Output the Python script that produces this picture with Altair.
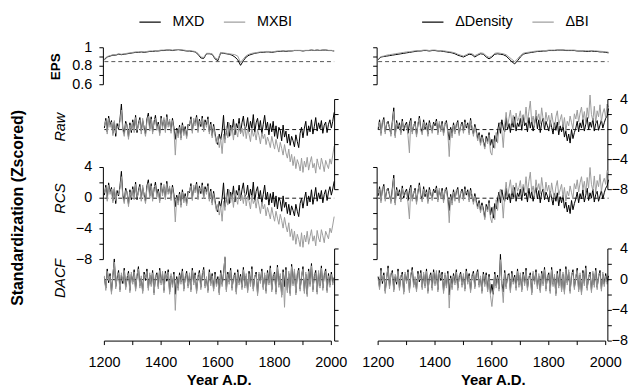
import altair as alt
import pandas as pd

years10 = list(range(1200, 2011, 10))
years5 = list(range(1200, 2011, 5))

# ---------------- EPS (10-year steps) ----------------
eps_mxd = [0.87, 0.90, 0.91, 0.92, 0.92, 0.93, 0.925, 0.93, 0.935, 0.94,
           0.945, 0.95, 0.95, 0.955, 0.95, 0.955, 0.96, 0.96, 0.965, 0.965,
           0.97, 0.97, 0.975, 0.975, 0.97, 0.975, 0.98, 0.975, 0.97, 0.965,
           0.965, 0.96, 0.955, 0.93, 0.89, 0.885, 0.935, 0.935, 0.93, 0.88,
           0.86, 0.945, 0.94, 0.935, 0.93, 0.92, 0.90, 0.87, 0.81, 0.86,
           0.90, 0.92, 0.93, 0.94, 0.945, 0.95, 0.95, 0.955, 0.955, 0.95,
           0.955, 0.96, 0.96, 0.965, 0.96, 0.965, 0.965, 0.97, 0.97, 0.97,
           0.965, 0.97, 0.97, 0.975, 0.97, 0.975, 0.97, 0.975, 0.975, 0.97,
           0.97, 0.965]
eps_mxbi = [0.88, 0.905, 0.915, 0.925, 0.925, 0.935, 0.93, 0.935, 0.94, 0.945,
            0.95, 0.955, 0.955, 0.96, 0.955, 0.96, 0.965, 0.965, 0.97, 0.97,
            0.975, 0.975, 0.978, 0.978, 0.975, 0.978, 0.98, 0.978, 0.975, 0.97,
            0.97, 0.965, 0.96, 0.94, 0.90, 0.895, 0.94, 0.94, 0.935, 0.89,
            0.875, 0.95, 0.945, 0.94, 0.935, 0.93, 0.925, 0.91, 0.84, 0.88,
            0.915, 0.93, 0.94, 0.945, 0.95, 0.955, 0.955, 0.96, 0.96, 0.955,
            0.96, 0.965, 0.965, 0.968, 0.965, 0.968, 0.968, 0.972, 0.972, 0.972,
            0.97, 0.972, 0.972, 0.977, 0.972, 0.977, 0.972, 0.977, 0.977, 0.972,
            0.972, 0.968]
eps_dd = [0.87, 0.90, 0.905, 0.91, 0.915, 0.92, 0.925, 0.93, 0.935, 0.94,
          0.945, 0.95, 0.955, 0.96, 0.965, 0.965, 0.97, 0.97, 0.965, 0.97,
          0.97, 0.965, 0.965, 0.96, 0.955, 0.95, 0.945, 0.935, 0.92, 0.91,
          0.90, 0.915, 0.93, 0.925, 0.90, 0.92, 0.935, 0.93, 0.90, 0.88,
          0.90, 0.93, 0.935, 0.93, 0.925, 0.91, 0.88, 0.85, 0.825, 0.86,
          0.90, 0.93, 0.94, 0.945, 0.95, 0.955, 0.96, 0.96, 0.965, 0.965,
          0.97, 0.97, 0.97, 0.975, 0.975, 0.975, 0.97, 0.97, 0.97, 0.97,
          0.965, 0.965, 0.965, 0.96, 0.96, 0.965, 0.96, 0.96, 0.955, 0.955,
          0.95, 0.945]
eps_dbi = [0.875, 0.905, 0.91, 0.92, 0.925, 0.93, 0.935, 0.94, 0.945, 0.95,
           0.955, 0.958, 0.962, 0.967, 0.97, 0.97, 0.975, 0.975, 0.97, 0.975,
           0.975, 0.97, 0.97, 0.967, 0.962, 0.958, 0.952, 0.945, 0.93, 0.92,
           0.91, 0.925, 0.94, 0.935, 0.915, 0.93, 0.945, 0.94, 0.915, 0.895,
           0.91, 0.94, 0.945, 0.94, 0.935, 0.925, 0.90, 0.875, 0.85, 0.88,
           0.915, 0.94, 0.948, 0.952, 0.957, 0.962, 0.965, 0.967, 0.97, 0.97,
           0.975, 0.975, 0.975, 0.978, 0.978, 0.978, 0.975, 0.975, 0.975, 0.975,
           0.97, 0.97, 0.97, 0.967, 0.967, 0.97, 0.967, 0.965, 0.962, 0.96,
           0.957, 0.952]

# ---------------- z-scored chronologies (5-year steps) ----------------
raw_mxd = [0.2, 1.5, -0.3, 1.8, 0.6, 1.2, -0.5, 1.0, -0.9, 0.8, 0.1, 1.4, 3.4, 0.2, -0.6, 1.1, 0.5, -1.0, 0.9, -0.4,
           1.3, 0.0, 1.9, -0.4, 0.8, 1.6, -0.2, 1.2, 0.3, -0.6, 1.4, 2.2, 0.1, 1.7, -0.3, 0.9, 1.9, 0.2, 1.0, -0.5,
           1.8, 0.4, 1.3, -0.1, 2.0, 0.6, 1.1, -0.2, 1.5, 0.3, -1.3, 0.2, -0.8, 0.6, -1.1, 0.9, -0.5, 0.4, -0.9, 0.7,
           0.5, 1.7, -0.2, 1.2, 0.8, 1.9, -0.1, 1.4, 0.4, 1.8, 0.0, 1.3, 0.6, 1.7, -0.3, 1.0, -0.8, 0.7, -0.5, -1.6,
           -2.0, -0.6, -1.4, -0.2, 1.9, -1.3, -0.4, 1.0, -0.9, 0.6, -0.2, 1.4, -0.7, 0.8, 0.2, 1.5, -0.5, 0.9, 1.8, 0.0,
           0.4, 1.6, -0.3, 1.1, 0.2, 2.0, -0.4, 0.9, 1.5, 0.0, 1.2, -0.6, 0.7, 1.9, 0.1, 1.0, -0.7, 0.8, -0.3, 1.1,
           -0.9, 0.5, -1.2, 0.3, -0.1, -1.5, 0.6, -1.0, -0.2, -1.8, -0.6, -2.1, -0.9, -1.5, -2.3, -0.7, -1.6, -2.4, -0.5, 0.3,
           -1.1, 0.2, 1.1, -0.8, 0.5, -0.3, 1.3, -0.6, 0.4, 1.6, -0.2, 0.9, 0.1, 1.2, -0.5, 0.6, 1.0, -0.4, 0.7, 1.3,
           0.2, 1.1, 2.3]
raw_mxbi = [0.5, 1.2, -0.6, 1.5, 0.3, 1.0, -0.8, 1.2, -0.5, 0.4, 0.3, 1.1, 2.6, -0.1, -0.9, 0.8, 0.7, -1.3, 0.6, -0.1,
            1.0, -0.4, 1.6, -0.1, 0.5, 1.3, -0.6, 1.5, 0.0, -0.9, 1.1, 1.8, -0.2, 1.4, -0.6, 1.2, 1.5, -0.1, 0.7, -0.8,
            1.5, 0.1, 1.6, -0.4, 1.7, 0.3, 1.4, -0.5, 1.2, 0.0, -3.4, -0.1, -1.1, 0.3, -1.4, 0.6, -0.8, 0.1, -1.2, 0.4,
            0.8, 1.4, -0.5, 1.5, 0.5, 1.6, -0.4, 1.1, 0.7, 1.5, -0.3, 1.0, 0.3, 1.4, -0.6, 0.7, -1.1, 0.4, -0.8, -1.9,
            -0.9, -2.4, -1.2, -3.2, -0.6, -1.8, 0.4, -1.1, 0.9, -0.8, 0.3, -1.4, 0.6, -0.2, -1.0, 0.8, -0.5, 0.2, -0.9, 0.5,
            -1.2, 0.1, -0.6, -1.6, 0.2, -0.9, -0.3, -1.4, 0.0, -0.8, -1.9, -0.4, -1.2, -0.6, -2.0, -1.0, -1.6, -2.4, -0.9, -1.8,
            -2.6, -1.3, -2.2, -3.0, -1.7, -2.5, -3.4, -2.0, -3.1, -3.8, -2.6, -4.3, -3.3, -4.8, -3.6, -5.2, -4.0, -4.6, -5.5, -3.8,
            -5.7, -4.2, -5.0, -3.7, -5.4, -4.4, -3.6, -5.1, -4.5, -5.8, -3.9, -4.8, -5.3, -3.8, -4.6, -5.6, -4.1, -4.7, -5.2, -3.9,
            -4.6, -3.4, -2.2]
rcs_mxd = [0.4, 1.7, -0.1, 2.0, 0.8, 1.4, -0.3, 1.2, -0.7, 1.0, 0.3, 1.6, 3.5, 0.4, -0.4, 1.3, 0.7, -0.8, 1.1, -0.2,
           1.5, 0.2, 2.1, -0.2, 1.0, 1.8, 0.0, 1.4, 0.5, -0.4, 1.6, 2.4, 0.3, 1.9, -0.1, 1.1, 2.1, 0.4, 1.2, -0.3,
           2.0, 0.6, 1.5, 0.1, 2.2, 0.8, 1.3, 0.0, 1.7, 0.5, -1.1, 0.4, -0.6, 0.8, -0.9, 1.1, -0.3, 0.6, -0.7, 0.9,
           0.7, 1.9, 0.0, 1.4, 1.0, 2.1, 0.1, 1.6, 0.6, 2.0, 0.2, 1.5, 0.8, 1.9, -0.1, 1.2, -0.6, 0.9, -0.3, -1.4,
           -1.8, -0.4, -1.2, 0.0, 2.0, -1.1, -0.2, 1.2, -0.7, 0.8, 0.0, 1.6, -0.5, 1.0, 0.4, 1.7, -0.3, 1.1, 2.0, 0.2,
           0.5, 1.7, -0.2, 1.2, 0.2, 2.1, -0.4, 0.9, 1.5, -0.1, 1.0, -0.7, 0.5, 1.7, -0.2, 0.8, -0.9, 0.6, -0.6, 0.8,
           -1.1, 0.3, -1.4, 0.1, -0.4, -1.7, 0.3, -1.2, -0.5, -2.0, -0.8, -2.2, -1.0, -1.6, -2.3, -0.8, -1.7, -2.4, -0.7, 0.0,
           -1.3, -0.1, 0.8, -1.0, 0.3, -0.5, 1.1, -0.8, 0.2, 1.4, -0.4, 0.7, -0.1, 1.0, -0.6, 0.5, 1.1, -0.3, 0.8, 1.5,
           0.4, 1.2, 2.2]
rcs_mxbi = [0.7, 1.4, -0.4, 1.7, 0.5, 1.2, -0.6, 1.4, -0.3, 0.6, 0.5, 1.3, 2.8, 0.1, -0.7, 1.0, 0.9, -1.1, 0.8, 0.1,
            1.2, -0.2, 1.8, 0.1, 0.7, 1.5, -0.4, 1.7, 0.2, -0.7, 1.3, 2.0, 0.0, 1.6, -0.4, 1.4, 1.7, 0.1, 0.9, -0.6,
            1.7, 0.3, 1.8, -0.2, 1.9, 0.5, 1.6, -0.3, 1.4, 0.2, -3.1, 0.1, -0.9, 0.5, -1.2, 0.8, -0.6, 0.3, -1.0, 0.6,
            1.0, 1.6, -0.3, 1.7, 0.7, 1.8, -0.2, 1.3, 0.9, 1.7, -0.1, 1.2, 0.5, 1.6, -0.4, 0.9, -0.9, 0.6, -0.6, -1.7,
            -0.8, -2.2, -1.0, -3.0, -0.4, -1.6, 0.6, -0.9, 1.1, -0.6, 0.5, -1.2, 0.8, 0.0, -0.8, 1.0, -0.3, 0.4, -0.7, 0.7,
            -1.0, 0.3, -0.4, -1.4, 0.4, -0.7, -0.2, -1.3, 0.1, -0.9, -2.0, -0.5, -1.4, -0.8, -2.3, -1.2, -1.9, -2.7, -1.2, -2.2,
            -3.0, -1.7, -2.6, -3.4, -2.1, -2.9, -3.9, -2.5, -3.6, -4.4, -3.2, -5.0, -4.0, -5.5, -4.3, -6.0, -4.7, -5.4, -6.3, -4.5,
            -6.4, -4.8, -5.7, -4.3, -6.0, -5.0, -4.1, -5.6, -4.9, -6.2, -4.2, -5.2, -5.7, -4.1, -4.9, -5.8, -4.3, -4.8, -5.3, -3.9,
            -4.5, -3.5, -2.4]
dacf_mxd = [0.3, -1.1, 1.4, -0.4, 0.8, -1.6, 0.5, 2.7, -0.9, 0.2, 1.2, -1.3, 0.6, -0.5, 1.5, -1.0, 0.1, 1.1, -1.4, 0.7,
            -0.3, 1.3, -1.2, 0.4, 1.7, -0.8, 0.2, -1.5, 1.0, -0.1, 1.4, -1.1, 0.6, -0.6, 1.2, -1.7, 0.3, 0.9, -0.9, 1.5,
            -0.4, 0.8, -1.4, 1.1, -0.2, 1.3, -1.6, 0.5, -0.7, 1.0, -1.9, 0.4, -1.1, 0.9, -0.3, 1.4, -1.2, 0.2, 1.1, -0.8,
            0.6, -1.3, 1.5, -0.4, 0.9, -1.5, 0.3, 1.2, -1.0, 0.5, 1.6, -0.8, 0.1, -1.4, 1.3, -0.5, 0.8, -1.2, 1.0, -0.6,
            0.4, -1.7, 1.2, -0.6, 0.8, 2.9, -1.3, 1.0, -0.3, 1.5, -1.1, 0.2, 0.9, -1.6, 1.3, -0.4, 0.7, -1.0, 1.6, -0.8,
            0.5, -1.4, 1.1, -0.6, 1.7, -1.2, 0.3, 1.0, -1.8, 0.7, -0.2, 1.4, -1.0, 0.6, -1.5, 1.2, -0.4, 1.8, -1.3, 0.4,
            1.0, -1.6, 1.9, -0.7, 0.5, -2.0, 1.3, -0.9, 1.6, -1.4, 0.8, -1.8, 2.0, -0.5, 1.1, -1.7, 0.6, 1.5, -1.2, 0.3,
            1.7, -1.5, 0.7, -1.9, 1.4, -0.6, 2.1, -1.3, 0.4, 1.2, -1.6, 0.9, -0.8, 1.8, -1.1, 0.5, 1.4, -1.4, 0.8, -0.7,
            1.0, -0.4, 0.3]
dacf_mxbi = [0.5, -1.4, 1.1, -0.1, 0.5, -1.9, 0.8, 2.3, -1.2, 0.5, 0.9, -1.6, 0.9, -0.2, 1.2, -1.3, 0.4, 0.8, -1.7, 1.0,
             -0.6, 1.0, -1.5, 0.7, 1.4, -1.1, 0.5, -1.8, 0.7, 0.2, 1.1, -1.4, 0.9, -0.9, 0.9, -2.0, 0.6, 0.6, -1.2, 1.2,
             -0.7, 1.1, -1.7, 0.8, 0.1, 1.0, -1.9, 0.8, -1.0, 0.7, -4.0, 0.1, -1.4, 0.6, -0.6, 1.1, -1.5, 0.5, 0.8, -1.1,
             0.9, -1.6, 1.2, -0.7, 0.6, -1.8, 0.6, 0.9, -1.3, 0.8, 1.3, -1.1, 0.4, -1.7, 1.0, -0.8, 0.5, -1.5, 0.7, -0.9,
             0.1, -2.0, 0.9, -0.9, 0.5, 3.0, -1.6, 0.7, -0.6, 1.2, -1.4, 0.5, 0.6, -1.9, 1.0, -0.7, 0.4, -1.3, 1.3, -1.1,
             0.8, -1.7, 0.8, -0.9, 1.4, -1.5, 0.6, 0.7, -2.1, 1.0, -0.5, 1.1, -1.3, 0.9, -1.8, 0.9, -0.7, 1.5, -1.6, 0.7,
             0.7, -1.9, 1.6, -1.0, 0.8, -2.3, 1.0, -3.6, 1.3, -1.7, 1.1, -2.1, 1.7, -0.8, 1.4, -2.0, 0.9, 1.2, -1.5, 0.6,
             1.4, -1.8, 1.0, -2.2, 1.1, -0.9, 1.8, -1.6, 0.7, 0.9, -1.9, 1.2, -1.1, 1.5, -1.4, 0.8, 1.1, -1.7, 0.5, -1.0,
             0.7, -0.7, 0.2]

raw_dd = [0.0, 1.3, -0.5, 0.9, 1.6, -0.3, 0.7, 1.1, 0.2, -0.6, 1.1, 2.9, -0.8, 1.2, 0.1, 0.9, -0.4, 1.4, -0.2, 0.6,
          1.0, -0.5, 0.8, 1.5, -0.3, 0.4, 1.1, -0.7, 0.6, 1.8, 0.2, -0.4, 1.3, 0.0, 0.9, -0.6, 1.2, 0.3, -0.2, 1.0,
          0.5, 1.4, -0.4, 0.8, 0.0, 1.1, -0.5, 0.7, 1.2, -0.2, -1.4, 0.3, -0.8, 0.9, -0.3, 0.6, 1.2, -0.5, 0.4, 1.0,
          -0.2, 1.3, 0.2, 0.9, -0.4, 1.5, 0.1, -0.6, 0.7, -0.1, -1.2, -0.4, -1.8, -0.7, -1.5, -2.3, -0.9, -1.6, -0.4, -2.1,
          -1.3, -2.4, -0.8, -1.6, -0.2, 0.9, -0.5, 1.3, 0.2, -0.3, 1.6, 0.0, 0.8, -0.4, 1.2, 0.3, 1.7, -0.2, 0.9, 0.4,
          1.5, -0.1, 1.9, 0.5, 0.9, -0.3, 1.6, 0.2, 1.2, -0.2, 0.8, 1.8, 0.1, 1.3, -0.4, 0.9, 1.5, 0.0, 1.1, 0.5,
          -0.2, 1.2, 0.3, -0.6, 0.9, -0.1, 1.0, -0.7, 0.5, -0.3, 0.7, -1.0, -0.2, -1.5, -0.6, -1.8, 0.0, -1.2, -0.4, 0.2,
          1.1, -0.3, 0.9, 0.2, 1.4, -0.2, 0.7, 1.6, 0.0, 1.0, 0.3, 1.5, -0.2, 0.8, 1.2, -0.1, 0.6, 1.3, 0.2, 0.9,
          1.5, 1.8, 2.8]
raw_dbi = [0.3, 1.0, -0.8, 1.2, 1.3, -0.6, 1.0, 0.8, 0.5, -0.9, 0.8, 2.4, -1.1, 0.9, 0.4, 0.6, -0.7, 1.1, 0.1, 0.3,
           0.7, -0.8, -3.1, 1.2, -0.6, 0.7, 0.8, -1.0, 0.9, 1.5, -0.1, -0.7, 1.0, 0.3, 0.6, -0.9, 0.9, 0.6, -0.5, 0.7,
           0.8, 1.1, -0.7, 1.1, -0.3, 0.8, -0.8, 1.0, 0.9, -0.5, -3.6, 0.0, -1.1, 0.6, -0.6, 0.9, 0.9, -0.8, 0.7, 0.7,
           -0.5, 1.0, 0.5, 0.6, -0.7, 1.2, 0.4, -0.9, 0.4, -0.4, -1.5, -0.7, -2.1, -1.0, -1.8, -2.6, -1.2, -1.9, -0.7, -3.0,
           -3.4, -1.3, -2.5, -0.4, -1.8, 0.2, 1.0, -0.2, -2.4, 0.6, 2.3, 0.4, 1.5, 2.6, 0.8, 1.9, 0.3, 2.2, 1.1, 1.6,
           2.5, 0.7, 2.0, 1.2, 3.0, 0.9, 2.4, 3.8, 1.0, 1.8, 0.5, 2.6, 1.3, 2.1, 0.8, 2.9, 1.4, 0.6, 2.3, 1.1,
           1.9, 0.4, 2.2, 1.0, 0.2, 1.7, 2.5, 0.6, 1.3, 2.0, 0.3, 1.6, -0.2, 1.1, 0.5, 1.8, 0.9, 0.1, 2.1, 1.4,
           2.6, 1.0, 2.2, 3.0, 1.3, 2.4, 0.8, 2.9, 1.5, 4.6, 2.0, 1.2, 3.1, 0.9, 2.5, 1.7, 3.3, 1.1, 2.2, 2.8,
           1.6, 3.4, 3.0]
rcs_dd = [0.3, 1.5, -0.3, 1.1, 1.8, -0.1, 0.9, 1.3, 0.4, -0.4, 1.3, 3.0, -0.6, 1.4, 0.3, 1.1, -0.2, 1.6, 0.0, 0.8,
          1.2, -0.3, 1.0, 1.7, -0.1, 0.6, 1.3, -0.5, 0.8, 2.0, 0.4, -0.2, 1.5, 0.2, 1.1, -0.4, 1.4, 0.5, 0.0, 1.2,
          0.7, 1.6, -0.2, 1.0, 0.2, 1.3, -0.3, 0.9, 1.4, 0.0, -1.6, 0.5, -0.6, 1.1, -0.1, 0.8, 1.4, -0.3, 0.6, 1.2,
          0.0, 1.5, 0.4, 1.1, -0.2, 1.3, 0.2, -0.5, 0.6, -0.3, -1.1, -0.3, -1.6, -0.6, -1.4, -2.5, -0.8, -1.5, -0.3, -2.2,
          -1.2, -2.6, -0.7, -1.4, -0.1, 0.8, -0.6, 1.1, 0.0, -0.4, 1.3, -0.2, 0.6, -0.6, 1.0, 0.1, 1.4, -0.4, 0.7, 0.2,
          1.2, -0.3, 1.5, 0.3, 0.7, -0.5, 1.3, 0.0, 0.9, -0.4, 0.6, 1.4, -0.1, 1.0, -0.6, 0.7, 1.2, -0.2, 0.8, 0.3,
          -0.5, 0.9, 0.0, -0.9, 0.6, -0.4, 0.7, -1.0, 0.2, -0.6, 0.4, -1.3, -0.5, -1.8, -0.9, -2.0, -0.3, -1.5, -0.7, -0.1,
          0.8, -0.6, 0.6, -0.1, 1.1, -0.5, 0.4, 1.3, -0.3, 0.7, 0.0, 1.2, -0.5, 0.5, 0.9, -0.4, 0.3, 1.0, -0.1, 0.7,
          1.3, 1.6, 2.4]
rcs_dbi = [0.6, 1.2, -0.6, 1.4, 1.5, -0.4, 1.2, 1.0, 0.7, -0.7, 1.0, 2.6, -0.9, 1.1, 0.6, 0.8, -0.5, 1.3, 0.3, 0.5,
           0.9, -0.6, -2.7, 1.4, -0.4, 0.9, 1.0, -0.8, 1.1, 1.7, 0.1, -0.5, 1.2, 0.5, 0.8, -0.7, 1.1, 0.8, -0.3, 0.9,
           1.0, 1.3, -0.5, 1.3, -0.1, 1.0, -0.6, 1.2, 1.1, -0.3, -3.2, 0.2, -0.9, 0.8, -0.4, 1.1, 1.1, -0.6, 0.9, 0.9,
           -0.3, 1.2, 0.7, 0.8, -0.5, 1.0, 0.5, -0.8, 0.3, -0.6, -1.4, -0.6, -1.9, -0.9, -1.7, -2.8, -1.1, -1.8, -0.6, -2.6,
           -3.2, -1.1, -2.8, -0.2, -1.6, 0.4, 1.2, 0.0, -2.6, 0.4, 2.1, 0.2, 1.3, 2.4, 0.6, 1.7, 0.1, 2.0, 0.9, 1.4,
           2.3, 0.5, 1.8, 1.0, 2.8, 0.7, 2.2, 3.4, 0.8, 1.6, 0.3, 2.4, 1.1, 1.9, 0.6, 2.7, 1.2, 0.4, 2.1, 0.9,
           1.7, 0.2, 2.0, 0.8, 0.0, 1.5, 2.3, 0.4, 1.1, 1.8, 0.1, 1.4, -0.4, 0.9, 0.3, 1.6, 0.7, -0.1, 1.9, 1.2,
           2.4, 0.8, 2.0, 2.8, 1.1, 2.2, 0.6, 2.7, 1.3, 4.0, 1.8, 1.0, 2.9, 0.7, 2.3, 1.5, 3.1, 0.9, 2.0, 2.6,
           1.8, 3.6, 3.2]
dacf_dd = [0.4, -1.0, 1.5, -0.5, 0.9, -1.5, 0.2, 1.8, -0.9, 0.6, 1.2, -1.3, 0.4, -0.6, 1.4, -1.1, 0.3, 1.0, -1.6, 0.7,
           -0.2, 1.3, -1.4, 0.5, 1.6, -0.7, 0.1, -1.3, 1.1, -0.3, 1.2, -1.0, 0.7, -0.8, 1.4, -1.5, 0.2, 0.9, -1.1, 1.3,
           -0.5, 0.9, -1.3, 1.2, -0.1, 1.0, -1.5, 0.6, -0.8, 1.1, -2.0, 0.5, -1.0, 0.8, -0.4, 1.3, -1.1, 0.3, 1.0, -0.7,
           0.5, -1.2, 1.4, -0.3, 0.8, -1.4, 0.4, 1.1, -0.9, 0.6, 1.3, -0.7, 0.2, -1.5, 1.0, -0.6, 0.9, -1.3, 0.7, -1.8,
           -0.6, -1.9, 1.0, -0.8, 0.6, -1.2, 3.3, -0.5, -1.6, 1.2, -0.9, 0.4, 0.8, -1.4, 1.1, -0.3, 0.6, -1.1, 1.4, -0.7,
           0.6, -1.3, 1.0, -0.5, 1.5, -1.1, 0.2, 0.9, -1.7, 0.8, -0.3, 1.3, -0.9, 0.5, -1.4, 1.1, -0.5, 1.6, -1.2, 0.3,
           0.9, -1.5, 1.6, -0.6, 0.4, -1.8, 1.1, -0.8, 1.4, -1.3, 0.7, -1.6, 1.7, -0.4, 1.0, -1.5, 0.5, 1.3, -1.0, 0.2,
           1.5, -1.3, 0.6, -1.7, 1.2, -0.5, 1.8, -1.1, 0.3, 1.0, -1.4, 0.8, -0.7, 1.5, -1.0, 0.4, 1.2, -1.2, 0.7, -0.6,
           0.8, -0.3, 0.5]
dacf_dbi = [0.1, -1.3, 1.2, -0.2, 0.6, -1.8, 0.5, 1.5, -1.2, 0.9, 0.9, -1.6, 0.7, -0.3, 1.1, -1.4, 0.6, 0.7, -1.9, 1.0,
            -0.5, 1.0, -1.7, 0.8, 1.3, -1.0, 0.4, -1.6, 0.8, 0.0, 0.9, -1.3, 1.0, -1.1, 1.1, -1.8, 0.5, 0.6, -1.4, 1.0,
            -0.8, 1.2, -1.6, 0.9, 0.2, 0.7, -1.8, 0.9, -1.1, 0.8, -3.7, 0.2, -1.3, 0.5, -0.7, 1.0, -1.4, 0.6, 0.7, -1.0,
            0.8, -1.5, 1.1, -0.6, 0.5, -1.7, 0.7, 0.8, -1.2, 0.9, 1.0, -1.0, 0.5, -1.8, 0.7, -0.9, 0.6, -1.6, 0.4, -2.1,
            -3.5, -1.6, 0.7, -1.1, 0.3, -1.5, 2.6, -0.8, -3.0, 0.9, -1.2, 0.7, 0.5, -1.7, 0.8, -0.6, 0.3, -1.4, 1.1, -1.0,
            0.9, -1.6, 0.7, -0.8, 1.2, -1.4, 0.5, 0.6, -2.0, 1.1, -0.6, 1.0, -1.2, 0.8, -1.7, 0.8, -0.8, 1.3, -1.5, 0.6,
            0.6, -1.8, 1.3, -0.9, 0.7, -2.1, 0.8, -1.1, 1.1, -1.6, 1.0, -1.9, 1.4, -0.7, 1.3, -1.8, 0.8, 1.0, -1.3, 0.5,
            1.2, -1.6, 0.9, -2.0, 0.9, -0.8, 1.5, -1.4, 0.6, 0.7, -1.7, 1.1, -1.0, 1.2, -1.3, 0.7, 0.9, -1.5, 1.0, -0.9,
            0.5, -0.6, 0.2]

left_names = ["MXD", "MXBI"]
right_names = ["\u0394Density", "\u0394BI"]
eps_ticks = [0.6, 0.7, 0.8, 0.9, 1.0]
eps_label_vals = [0.6, 0.8, 1.0]
eps_label_txt = ["0.6", "0.8", "1"]
z_ticks = [-8, -6, -4, -2, 0, 2, 4]
z_label_vals = [-8, -4, 0, 4]
z_label_txt = ["\u22128", "\u22124", "0", "4"]
year_ticks = list(range(1200, 2001, 100))
year_label_vals = [1200, 1400, 1600, 1800, 2000]

BLACK = "#000000"
GRAY = "#9c9c9c"
FONT = "Liberation Sans"
W, H = 604, 334
ONE = pd.DataFrame({"k": [0]})


def frame(vals, name, yrs):
    return pd.DataFrame({"year": yrs, "value": vals, "series": name})


def y_axis_layers(yscale, lo, hi, ticks, xpos, side, labels=None):
    sign = -1 if side == "left" else 1
    out = [
        alt.Chart(ONE).mark_rule(color=BLACK, strokeWidth=1).encode(
            x=alt.value(xpos),
            y=alt.YDatum(lo, type="quantitative", scale=yscale, axis=None),
            y2=alt.Y2Datum(hi),
        ),
        alt.Chart(pd.DataFrame({"v": ticks})).mark_rule(color=BLACK, strokeWidth=1).encode(
            y=alt.Y("v:Q", scale=yscale, axis=None),
            x=alt.value(xpos), x2=alt.value(xpos + sign * 4),
        ),
    ]
    if labels is not None:
        vals, txt, lx = labels
        out.append(
            alt.Chart(pd.DataFrame({"v": vals, "t": txt})).mark_text(
                align="right", baseline="middle", font=FONT, fontSize=14.5, color=BLACK
            ).encode(y=alt.Y("v:Q", scale=yscale, axis=None), x=alt.value(lx), text="t:N")
        )
    return out


def x_axis_layers(xscale, title_year):
    return [
        alt.Chart(ONE).mark_rule(color=BLACK, strokeWidth=1).encode(
            x=alt.XDatum(1200, type="quantitative", scale=xscale, axis=None),
            x2=alt.X2Datum(2000), y=alt.value(H),
        ),
        alt.Chart(pd.DataFrame({"v": year_ticks})).mark_rule(color=BLACK, strokeWidth=1).encode(
            x=alt.X("v:Q", scale=xscale, axis=None), y=alt.value(H), y2=alt.value(H + 4),
        ),
        alt.Chart(pd.DataFrame({"v": year_label_vals, "t": [str(v) for v in year_label_vals]})).mark_text(
            align="center", baseline="alphabetic", font=FONT, fontSize=14.5, color=BLACK
        ).encode(x=alt.X("v:Q", scale=xscale, axis=None), y=alt.value(H + 26), text="t:N"),
        alt.Chart(ONE).mark_text(
            text="Year A.D.", align="center", baseline="alphabetic", font=FONT,
            fontSize=15, fontWeight="bold", color=BLACK
        ).encode(x=alt.XDatum(title_year, type="quantitative", scale=xscale, axis=None),
                 y=alt.value(H + 44)),
    ]


def panel(black, gray, yrs, xscale, yscale, cscale, legend, names, ref, axis_layers,
          ref_color=BLACK):
    ref_rule = alt.Chart(ONE).mark_rule(
        strokeDash=[4, 3], strokeWidth=0.9, color=ref_color
    ).encode(
        x=alt.XDatum(1200, type="quantitative", scale=xscale, axis=None),
        x2=alt.X2Datum(2010),
        y=alt.YDatum(ref, type="quantitative", scale=yscale, axis=None),
    )
    lines = []
    for vals, name in ((black, names[0]), (gray, names[1])):
        lines.append(alt.Chart(frame(vals, name, yrs)).mark_line(strokeWidth=1).encode(
            x=alt.X("year:Q", scale=xscale, axis=None),
            y=alt.Y("value:Q", scale=yscale, axis=None),
            color=alt.Color("series:N", scale=cscale, legend=legend),
        ))
    return alt.layer(ref_rule, *lines, *axis_layers)


def column(series, names, xrange, left_x, right_x, legend_x, show_left, show_right):
    xs = alt.Scale(domain=[1200, 2000], range=xrange, nice=False, zero=False)
    cs = alt.Scale(domain=names, range=[BLACK, GRAY])
    lg = alt.Legend(orient="none", legendX=legend_x, legendY=1.5,
                    direction="horizontal", title=None, symbolType="stroke",
                    symbolSize=462, symbolStrokeWidth=1.2, labelFont=FONT,
                    labelFontSize=14.5, labelColor=BLACK, labelOffset=11,
                    columnPadding=16)
    y_eps = alt.Scale(domain=[0.6, 1.0], range=[76, 38.8], nice=False, zero=False)
    y_raw = alt.Scale(domain=[-8, 4], range=[181.6, 90.9], nice=False, zero=False)
    y_rcs = alt.Scale(domain=[-8, 4], range=[252.0, 159.3], nice=False, zero=False)
    y_dacf = alt.Scale(domain=[-8, 4], range=[H, 241.3], nice=False, zero=False)
    lab_l = 84.7
    lab_r = 624.0
    p_eps = panel(series[0], series[1], years10, xs, y_eps, cs, lg, names, 0.85,
                  y_axis_layers(y_eps, 0.6, 1.0, eps_ticks, left_x, "left",
                                (eps_label_vals, eps_label_txt, lab_l) if show_left else None),
                  ref_color="#444444")
    p_raw = panel(series[2], series[3], years5, xs, y_raw, cs, lg, names, 0,
                  y_axis_layers(y_raw, -8, 4, z_ticks, right_x, "right",
                                (z_label_vals, z_label_txt, lab_r) if show_right else None))
    p_rcs = panel(series[4], series[5], years5, xs, y_rcs, cs, lg, names, 0,
                  y_axis_layers(y_rcs, -8, 4, z_ticks, left_x, "left",
                                (z_label_vals, z_label_txt, lab_l) if show_left else None))
    p_dacf = panel(series[6], series[7], years5, xs, y_dacf, cs, lg, names, 0,
                   y_axis_layers(y_dacf, -8, 4, z_ticks, right_x, "right",
                                 (z_label_vals, z_label_txt, lab_r) if show_right else None))
    xa = alt.layer(*x_axis_layers(xs, 1605))
    return alt.layer(p_eps, p_raw, p_rcs, p_dacf, xa).resolve_scale(y="independent")


left = column([eps_mxd, eps_mxbi, raw_mxd, raw_mxbi, rcs_mxd, rcs_mxbi, dacf_mxd, dacf_mxbi],
              left_names, [97, 325.4], 96.0, 328.7, 131.5, True, False)
right = column([eps_dd, eps_dbi, raw_dd, raw_dbi, rcs_dd, rcs_dbi, dacf_dd, dacf_dbi],
               right_names, [372.5, 601.5], 371.5, 603.7, 416, False, True)


def label(text, x, y, size, weight="normal", style="normal"):
    return alt.Chart(ONE).mark_text(
        text=text, angle=270, align="center", baseline="middle", font=FONT,
        fontSize=size, fontWeight=weight, fontStyle=style, color=BLACK
    ).encode(x=alt.value(x), y=alt.value(y))


texts = alt.layer(
    label("EPS", 48, 58, 13.5, weight="bold"),
    label("Raw", 53.7, 118.7, 14.5, style="italic"),
    label("RCS", 53.7, 190.5, 14.5, style="italic"),
    label("DACF", 53.7, 271, 14.5, style="italic"),
    label("Standardization (Zscored)", 10, 200, 16, weight="bold"),
)

chart = alt.layer(left, right, texts).resolve_scale(
    x="independent", y="independent", color="independent"
).properties(
    width=W, height=H,
    autosize=alt.AutoSizeParams(type="none"),
    padding={"left": 0, "top": 0, "right": 25, "bottom": 46},
).configure_view(stroke=None)

chart.save("out.html", embed_options={"renderer": "svg", "actions": False})
